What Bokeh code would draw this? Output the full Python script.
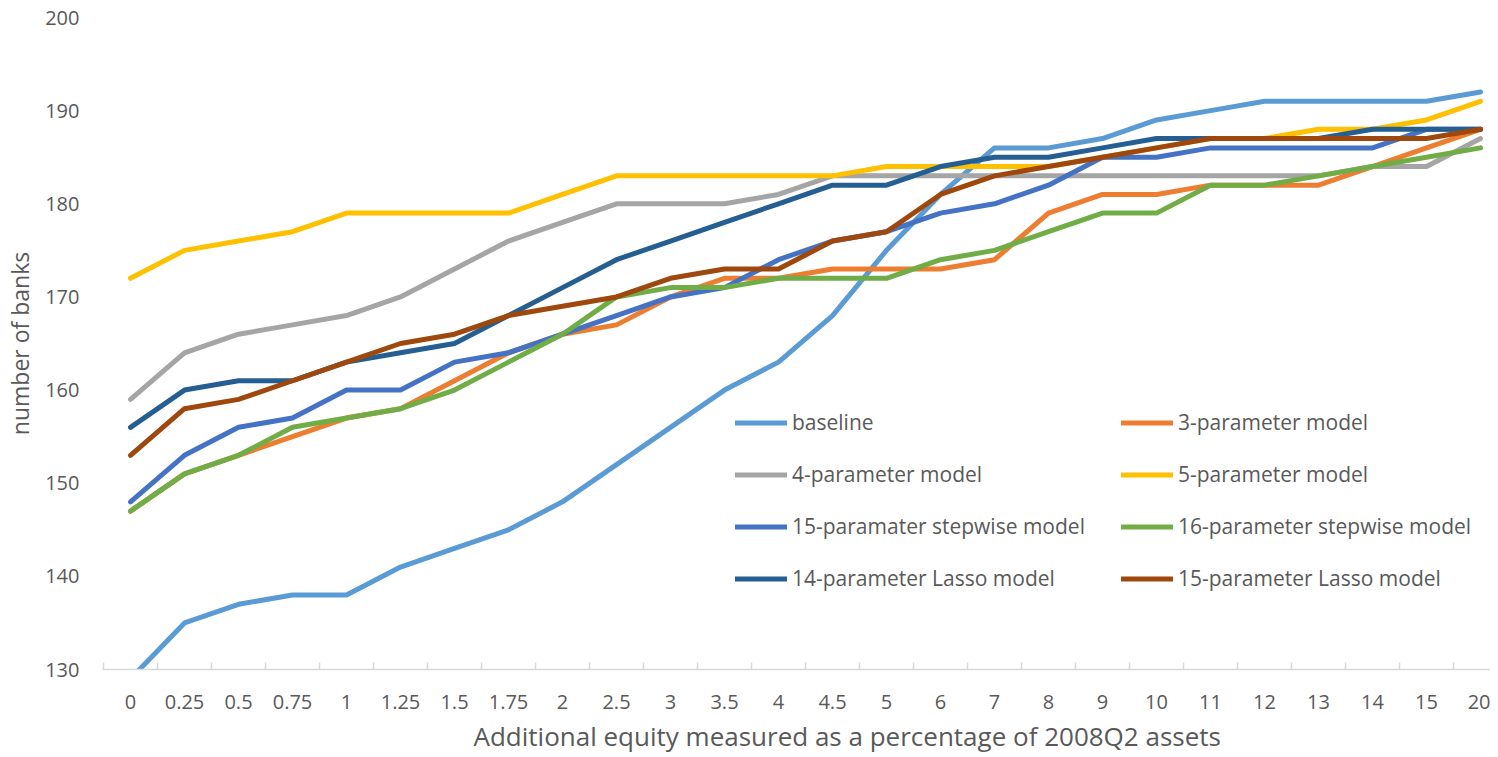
from bokeh.plotting import figure
from bokeh.models import (Range1d, FixedTicker, Legend, LegendItem, ColumnDataSource, Title)
from bokeh.embed import file_html
from bokeh.resources import INLINE

categories = ["0", "0.25", "0.5", "0.75", "1", "1.25", "1.5", "1.75", "2", "2.5",
              "3", "3.5", "4", "4.5", "5", "6", "7", "8", "9", "10", "11", "12",
              "13", "14", "15", "20"]

baseline = [129, 135, 137, 138, 138, 141, 143, 145, 148, 152, 156, 160, 163, 168,
            175, 181, 186, 186, 187, 189, 190, 191, 191, 191, 191, 192]
param3 = [147, 151, 153, 155, 157, 158, 161, 164, 166, 167, 170, 172, 172, 173,
          173, 173, 174, 179, 181, 181, 182, 182, 182, 184, 186, 188]
param4 = [159, 164, 166, 167, 168, 170, 173, 176, 178, 180, 180, 180, 181, 183,
          183, 183, 183, 183, 183, 183, 183, 183, 183, 184, 184, 187]
param5 = [172, 175, 176, 177, 179, 179, 179, 179, 181, 183, 183, 183, 183, 183,
          184, 184, 184, 184, 185, 186, 187, 187, 188, 188, 189, 191]
step15 = [148, 153, 156, 157, 160, 160, 163, 164, 166, 168, 170, 171, 174, 176,
          177, 179, 180, 182, 185, 185, 186, 186, 186, 186, 188, 188]
step16 = [147, 151, 153, 156, 157, 158, 160, 163, 166, 170, 171, 171, 172, 172,
          172, 174, 175, 177, 179, 179, 182, 182, 183, 184, 185, 186]
lasso14 = [156, 160, 161, 161, 163, 164, 165, 168, 171, 174, 176, 178, 180, 182,
           182, 184, 185, 185, 186, 187, 187, 187, 187, 188, 188, 188]
lasso15 = [153, 158, 159, 161, 163, 165, 166, 168, 169, 170, 172, 173, 173, 176,
           177, 181, 183, 184, 185, 186, 187, 187, 187, 187, 187, 188]

series_names = ["baseline", "3-parameter model", "4-parameter model", "5-parameter model",
                "15-paramater stepwise model", "16-parameter stepwise model",
                "14-parameter Lasso model", "15-parameter Lasso model"]
series_values = [baseline, param3, param4, param5, step15, step16, lasso14, lasso15]
series_colors = ["#5B9BD5", "#ED7D31", "#A5A5A5", "#FFC000",
                 "#4472C4", "#70AD47", "#255E91", "#9E480E"]

x_title = "Additional equity measured as a percentage of 2008Q2 assets"
y_title = "number of banks"

FONT = "Open Sans"
TEXT = "#595959"

xs = list(range(len(categories)))

p = figure(frame_width=1388, frame_height=652, output_backend="svg", toolbar_location=None,
           x_range=Range1d(-0.5185, 25.185), y_range=Range1d(130, 200),
           min_border_left=102, min_border_right=0, min_border_top=17, min_border_bottom=0)
p.outline_line_color = None
p.xgrid.visible = False
p.ygrid.visible = False
p.background_fill_color = "white"
p.border_fill_color = "white"

renderers = []
for name, vals, col in zip(series_names, series_values, series_colors):
    src = ColumnDataSource(dict(x=xs, y=vals))
    r = p.line("x", "y", source=src, line_color=col, line_width=5,
               line_cap="round", line_join="round")
    renderers.append(r)

# x axis
xa = p.xaxis[0]
xa.ticker = FixedTicker(ticks=xs, minor_ticks=[i - 0.5 for i in range(len(categories) + 1)])
xa.major_label_overrides = {i: c for i, c in enumerate(categories)}
xa.major_tick_line_color = None
xa.minor_tick_in = 7
xa.minor_tick_out = 0
xa.minor_tick_line_color = "#D9D9D9"
xa.minor_tick_line_width = 1.5
xa.axis_line_color = "#D9D9D9"
xa.axis_line_width = 1.5
xa.major_label_text_font = FONT
xa.major_label_text_font_size = "20px"
xa.major_label_text_color = TEXT
xa.major_label_standoff = 19

# x axis title, left-aligned to sit where the reference places it
p.add_layout(Title(text=x_title, align="left", offset=371, standoff=9,
                   text_font=FONT, text_font_size="26px", text_font_style="normal",
                   text_color=TEXT), "below")

# y axis
ya = p.yaxis[0]
ya.ticker = FixedTicker(ticks=[130, 140, 150, 160, 170, 180, 190, 200])
ya.major_tick_line_color = None
ya.minor_tick_line_color = None
ya.axis_line_color = None
ya.major_label_text_font = FONT
ya.major_label_text_font_size = "20px"
ya.major_label_text_color = TEXT
ya.major_label_standoff = 17
ya.axis_label = y_title
ya.axis_label_text_font = FONT
ya.axis_label_text_font_size = "23px"
ya.axis_label_text_font_style = "normal"
ya.axis_label_text_color = TEXT
ya.axis_label_standoff = 6


def make_legend(idx, loc):
    items = [LegendItem(label=series_names[i], renderers=[renderers[i]]) for i in idx]
    lg = Legend(items=items, location=loc, orientation="vertical",
                glyph_width=52, glyph_height=27, label_height=27, label_standoff=5,
                spacing=24, padding=0, margin=0,
                label_text_font=FONT, label_text_font_size="21px", label_text_color=TEXT,
                border_line_color=None, background_fill_alpha=0)
    return lg


p.add_layout(make_legend([0, 2, 4, 6], (633, 77)))
p.add_layout(make_legend([1, 3, 5, 7], (1019, 77)))

open("out.html", "w").write(file_html(p, INLINE))
